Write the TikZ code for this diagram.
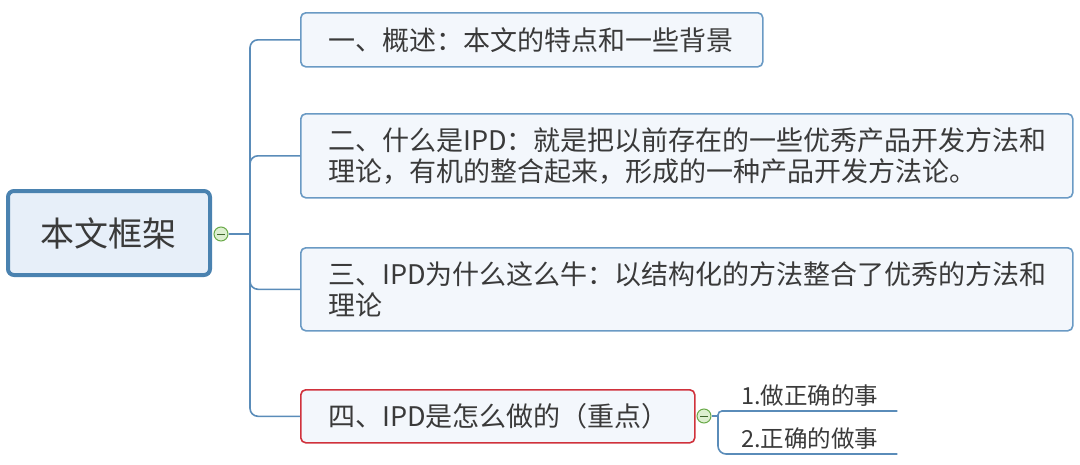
\documentclass[tikz,border=0pt]{standalone}
\usepackage{fontspec}
\newfontfamily\cjk{Noto Sans CJK SC}
\definecolor{lineblue}{HTML}{5A8CB9}
\definecolor{rootblue}{HTML}{4A82B0}
\definecolor{boxblue}{HTML}{6A9AC4}
\definecolor{boxfill}{HTML}{F3F7FC}
\definecolor{rootfill}{HTML}{E7EFF9}
\definecolor{redline}{HTML}{D0323C}
\definecolor{txt}{HTML}{3A3A3A}
\definecolor{cgreen}{HTML}{6AAA4A}
\definecolor{cfill}{HTML}{DDEFD0}
\begin{document}
\begin{tikzpicture}[x=1pt,y=-1pt,
  conn/.style={draw=lineblue,line width=1.6pt,rounded corners=8pt},
  topicbox/.style={draw=boxblue,fill=boxfill,line width=1.6pt,rounded corners=5pt,anchor=north west,inner sep=0pt},
  topictext/.style={anchor=west,inner sep=0pt,align=left,text=txt,font=\cjk\fontsize{27}{31}\selectfont},
  toggle/.style={circle,draw=cgreen,fill=cfill,line width=1pt,minimum size=14pt,inner sep=0pt},
  leaf/.style={anchor=south west,minimum width=175pt,minimum height=30pt,inner sep=0pt,text=txt,font=\cjk\fontsize{23.5}{26}\selectfont}]
\useasboundingbox (0,0) rectangle (1080,464);
% root
\node[draw=rootblue,fill=rootfill,line width=4pt,rounded corners=6pt,minimum width=202pt,minimum height=84pt,inner sep=0pt,text=txt,font=\cjk\fontsize{34}{40}\selectfont] (root) at (109,233) {本文框架};
% toggle
\node[toggle] (c0) at (221,234) {};
\draw[cgreen!60!black,line width=1pt] ([xshift=-4pt]c0.center) -- ([xshift=4pt]c0.center);
\coordinate (trunk) at (250,234);
% boxes
\node[topicbox,minimum width=462pt,minimum height=54pt] (b1) at (300,12) {};
\node[topictext] (t1) at ([xshift=28pt]b1.west) {一、概述：本文的特点和一些背景};
\node[topicbox,minimum width=772pt,minimum height=84pt] (b2) at (300,113) {};
\node[topictext] (t2) at ([xshift=28pt]b2.west) {二、什么是IPD：就是把以前存在的一些优秀产品开发方法和\\理论，有机的整合起来，形成的一种产品开发方法论。};
\node[topicbox,minimum width=772pt,minimum height=83pt] (b3) at (300,247) {};
\node[topictext] (t3) at ([xshift=28pt]b3.west) {三、IPD为什么这么牛：以结构化的方法整合了优秀的方法和\\理论};
\node[topicbox,draw=redline,minimum width=394pt,minimum height=53pt] (b4) at (300,389) {};
\node[topictext] (t4) at ([xshift=28pt]b4.west) {四、IPD是怎么做的（重点）};
% connectors
\draw[conn] (c0.east) -- (trunk);
\draw[conn] (trunk) |- (b1.west);
\draw[conn] (trunk) |- (b2.west);
\draw[conn] (trunk) |- (b3.west);
\draw[conn] (trunk) |- (b4.west);
% second toggle and leaves
\node[toggle] (c4) at (704,416) {};
\draw[cgreen!60!black,line width=1pt] ([xshift=-4pt]c4.center) -- ([xshift=4pt]c4.center);
\coordinate (s4) at (718,416);
\node[leaf] (l1) at (722,411) {1.做正确的事};
\node[leaf] (l2) at (722,454) {2.正确的做事};
\draw[conn,rounded corners=0pt] (c4.east) -- (s4);
\draw[conn,rounded corners=4pt] (s4) |- (l1.south east);
\draw[conn,rounded corners=8pt] (s4) |- (l2.south east);
\end{tikzpicture}
\end{document}
